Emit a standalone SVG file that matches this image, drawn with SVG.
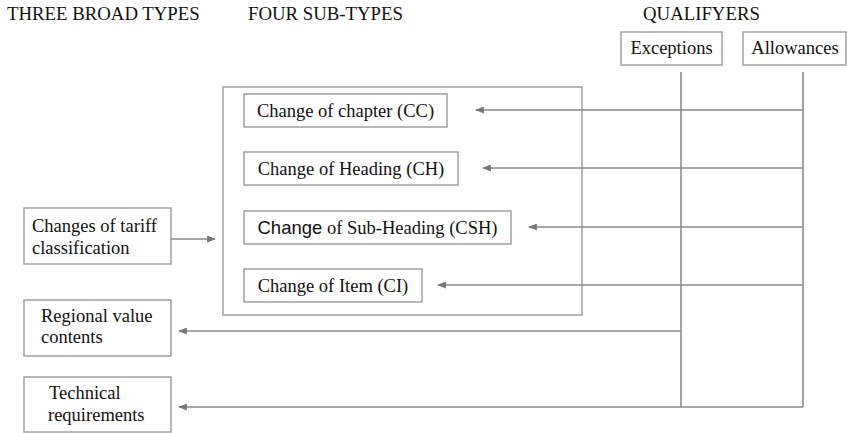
<svg xmlns="http://www.w3.org/2000/svg" width="847" height="433" viewBox="0 0 847 433">
<style>
text{font-family:"Liberation Serif","Times New Roman",serif;font-size:18.5px;fill:#111}
.h{font-size:18.8px}
.c{text-anchor:middle}
.sans{font-family:"Liberation Sans",Arial,sans-serif}
.box{fill:#fff;stroke:#9a9a9a;stroke-width:1.4}
.ln{fill:none;stroke:#888;stroke-width:1.4}
.vl{fill:none;stroke:#7a7a7a;stroke-width:1.4}
.ar{fill:none;stroke:#888;stroke-width:1.4;marker-end:url(#ah)}
</style>
<defs>
<marker id="ah" viewBox="0 0 10 8" refX="9" refY="4" markerWidth="9" markerHeight="7" markerUnits="userSpaceOnUse" orient="auto">
<path d="M0,0 L10,4 L0,8 z" fill="#777"/>
</marker>
</defs>
<g id="headings">
<text class="h" x="7" y="20">THREE BROAD TYPES</text>
<text class="h" x="248" y="20">FOUR SUB-TYPES</text>
<text class="h" x="643" y="20">QUALIFYERS</text>
</g>
<g id="subtypes-frame"><rect class="box" x="223" y="87" width="359" height="228"/></g>
<g id="connectors">
<line class="vl" x1="681" y1="72" x2="681" y2="407"/>
<line class="vl" x1="803" y1="72" x2="803" y2="407"/>
<line class="ar" x1="803" y1="110" x2="476" y2="110"/>
<line class="ar" x1="803" y1="168" x2="483" y2="168"/>
<line class="ar" x1="803" y1="227" x2="529" y2="227"/>
<line class="ar" x1="803" y1="285" x2="438" y2="285"/>
<line class="ar" x1="681" y1="331" x2="179" y2="331"/>
<line class="ar" x1="803" y1="407" x2="179" y2="407"/>
<line class="ar" x1="171" y1="239" x2="215" y2="239"/>
</g>
<g id="exceptions"><rect class="box" x="621" y="32" width="101" height="33"/><text class="c" x="671.5" y="54">Exceptions</text></g>
<g id="allowances"><rect class="box" x="743" y="32" width="103" height="33"/><text class="c" x="795" y="54">Allowances</text></g>
<g id="cc"><rect class="box" x="244" y="94" width="203" height="33"/><text class="c" x="345.5" y="117">Change of chapter (CC)</text></g>
<g id="ch"><rect class="box" x="244" y="152" width="214" height="33"/><text class="c" x="351" y="175">Change of Heading (CH)</text></g>
<g id="csh"><rect class="box" x="244" y="211" width="267" height="33"/><text class="c" x="377.5" y="234"><tspan class="sans">Change</tspan> of Sub-Heading (CSH)</text></g>
<g id="ci"><rect class="box" x="244" y="269" width="178" height="33"/><text class="c" x="333" y="292">Change of Item (CI)</text></g>
<g id="tariff"><rect class="box" x="24" y="208" width="147" height="56"/><text x="32" y="232">Changes of tariff</text><text x="32" y="254">classification</text></g>
<g id="regional"><rect class="box" x="24" y="300" width="147" height="56"/><text x="41" y="322">Regional value</text><text x="41" y="343">contents</text></g>
<g id="technical"><rect class="box" x="24" y="377" width="147" height="55"/><text x="49" y="399">Technical</text><text x="48" y="421">requirements</text></g>
</svg>
